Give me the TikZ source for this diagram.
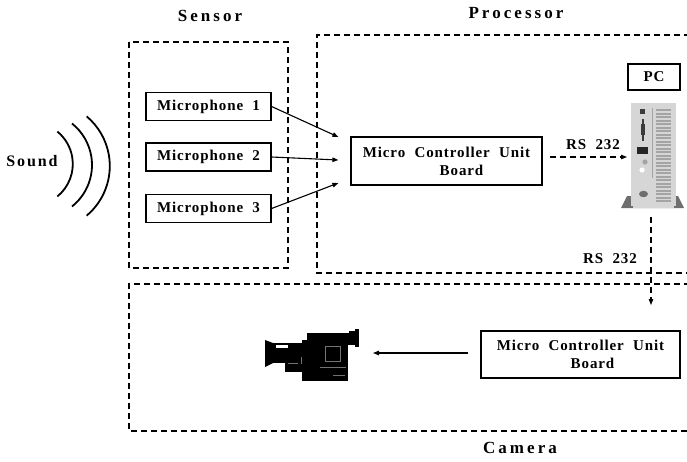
\documentclass[tikz,border=0pt]{standalone}
\usepackage{fontspec}
\setmainfont{Liberation Serif}
\newfontfamily\boxfont{Liberation Serif}[LetterSpace=6]
\newfontfamily\headfont{Liberation Serif}[LetterSpace=18]
\newfontfamily\soundfont{Liberation Serif}[LetterSpace=12]
\usetikzlibrary{arrows.meta,calc}

\definecolor{towerbody}{HTML}{D6D6D6}
\definecolor{towerslot}{HTML}{A4A4A4}
\definecolor{towerbase}{HTML}{6E6E6E}
\definecolor{towerdark}{HTML}{3C3C3C}

\begin{document}
\begin{tikzpicture}[x=1pt,y=-1pt,
  group/.style={draw, line width=1.1pt, dash pattern=on 6pt off 4pt},
  box/.style={draw, line width=1.2pt, inner sep=0pt, align=center,
    font=\boxfont\bfseries\fontsize{15}{18}\selectfont},
  plain/.style={inner sep=0pt, font=\boxfont\bfseries\fontsize{15}{18}\selectfont},
  heading/.style={inner sep=0pt, font=\headfont\bfseries\fontsize{17}{20}\selectfont},
  link/.style={line width=1.1pt, -{Triangle[length=6pt,width=4.5pt]}},
  dlink/.style={link, dash pattern=on 6pt off 4pt},
  wave/.style={line width=1.8pt}
]
\useasboundingbox (0,0) rectangle (687,461);

% ---------- group frames ----------
\draw[group] (129,42) rectangle (288,268);
\draw[group] (690,35) -- (317,35) -- (317,273) -- (690,273);
\draw[group] (690,284) -- (129,284) -- (129,431) -- (690,431);

\node[heading] (tsensor) at (210,16) {Sensor};
\node[heading] (tproc) at (516,13) {Processor};
\node[heading] (tcam) at (520,448) {Camera};

% ---------- sound source ----------
\node[inner sep=0pt, font=\soundfont\bfseries\fontsize{16}{19}\selectfont] (sound) at (32,161) {Sound};
\coordinate (src) at (31,164);
\draw[wave] ($(src)+(0,0)$) ++(-51:41.8pt) arc[start angle=-51, end angle=51, radius=41.8pt];
\draw[wave] ($(src)+(8,1)$) ++(-51.5:53pt) arc[start angle=-51.5, end angle=51.5, radius=53pt];
\draw[wave] ($(src)+(14,2)$) ++(-50:64.8pt) arc[start angle=-50, end angle=50, radius=64.8pt];

% ---------- microphones ----------
\node[box, minimum width=125pt, minimum height=28pt] (mic1) at (208.5,106.5) {Microphone\ \ 1};
\node[box, minimum width=125pt, minimum height=28pt] (mic2) at (208.5,157) {Microphone\ \ 2};
\node[box, minimum width=125pt, minimum height=28pt] (mic3) at (208.5,208.5) {Microphone\ \ 3};

% ---------- processor board ----------
\node[box, minimum width=191pt, minimum height=48pt] (mcu) at (446.5,161)
  {Micro\ \ Controller\ \ Unit\\\hspace*{30pt}Board};

\coordinate (in1) at ($(mcu.west)+(-12,-24)$);
\coordinate (in2) at ($(mcu.west)+(-12,-1)$);
\coordinate (in3) at ($(mcu.west)+(-12,22)$);
\draw[link] (mic1.east) -- (in1);
\draw[link] (mic2.east) -- (in2);
\draw[link] (mic3.east) -- (in3);

% ---------- PC ----------
\node[box, minimum width=52pt, minimum height=26pt] (pclabel) at (654,77) {PC};
\node[minimum width=62pt, minimum height=106pt, inner sep=0pt] (pc) at (652,156) {};
\begin{scope}
  \fill[towerbase] (621,208) -- (627,196) -- (678,196) -- (684,208) -- cycle;
  \fill[towerbody] (631,103) rectangle (676,206);
  \fill[towerbody] (633,198) rectangle (674,208);
  \draw[towerslot, line width=0.8pt] (652,108) -- (652,178);
  \foreach \yy in {109,112.5,...,200} \fill[towerslot] (656,\yy) rectangle (671,\yy+2);
  \fill[towerdark] (640,109) rectangle (645,114);
  \fill[towerdark] (641.5,119) rectangle (644,141);
  \fill[towerdark] (640.5,124) rectangle (645,135);
  \fill[black!85] (637,147) rectangle (648,154);
  \fill[towerslot] (645,162) circle (2.6pt);
  \fill[white] (642,170) circle (2.6pt);
  \fill[towerbase] (643.5,194) ellipse (4.5pt and 3.2pt);
\end{scope}
\coordinate (pcin) at (627,157);
\coordinate (pcout) at (651,217);

\draw[dlink] ($(mcu.east)+(7,-4)$) -- (pcin);
\node[plain] (rs1) at (593,145) {RS\ \ 232};

% ---------- camera side ----------
\node[box, minimum width=199pt, minimum height=47pt] (cmcu) at (580.5,354.5)
  {Micro\ \ Controller\ \ Unit\\\hspace*{24pt}Board};
\coordinate (rsend) at (651,305);
\draw[dlink] (pcout) -- (rsend);
\node[plain] (rs2) at (610,259) {RS\ \ 232};

% camcorder
\node[minimum width=94pt, minimum height=52pt, inner sep=0pt] (cam) at (311,356) {};
\begin{scope}
  \fill[black] (265,340) -- (273,343) -- (273,363) -- (265,367) -- cycle;
  \fill[black] (272,343) rectangle (302,363);
  \fill[white] (276,345) rectangle (288,347.5);
  \fill[black] (285,352) rectangle (305,372);
  \fill[black] (302,340) rectangle (348,381);
  \fill[black] (307,333) rectangle (350,345);
  \fill[black] (349,331) rectangle (355,345);
  \fill[black] (355,329) rectangle (359,347);
  \draw[black!55, line width=0.6pt] (325,346) rectangle (340,361);
  \draw[black!55, line width=0.5pt] (320,367) -- (346,367);
  \draw[black!55, line width=0.5pt] (333,375) -- (345,375);
  \draw[black!55, line width=0.5pt] (288,363) -- (298,363);
  \draw[black!55, line width=0.5pt] (301,357) -- (301,364);
\end{scope}
\coordinate (camin) at (373,353);
\draw[link] ($(cmcu.west)+(-12,-1.5)$) -- (camin);

\end{tikzpicture}
\end{document}
